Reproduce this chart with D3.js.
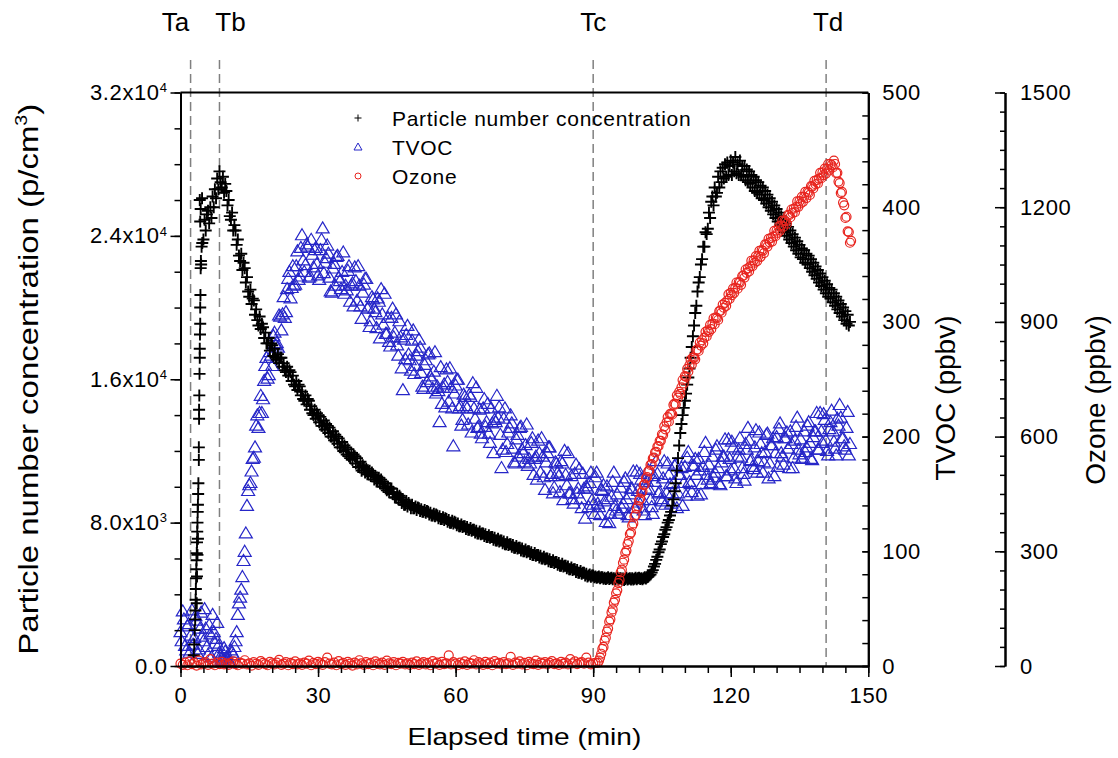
<!DOCTYPE html>
<html>
<head>
<meta charset="utf-8">
<script src="https://cdn.jsdelivr.net/npm/d3@7"></script>
<style>
  body { margin: 0; background: #fff; }
  svg { display: block; font-family: Arial, "Liberation Sans", sans-serif; }
</style>
</head>
<body>
<svg id="chart" width="1118" height="758"></svg>
<script>
// ---- data ----
// x axis: elapsed time (min)
const xTicks = [0, 30, 60, 90, 120, 150];
// left axis: particle number concentration, in 10^3 p/cm3
const particleTicks = [0, 8, 16, 24, 32];
const tvocTicks = [0, 100, 200, 300, 400, 500];
const ozoneTicks = [0, 300, 600, 900, 1200, 1500];

// event markers
const eventNames = ['Ta', 'Tb', 'Tc', 'Td'];
const eventTimes = [2.2, 8.5, 90, 140.8];

const seriesNames = ['Particle number concentration', 'TVOC', 'Ozone'];

// particle counter, initial rise (time min, 10^3 p/cm3)
const particleEarly = [
  [2.9,0.6],[3.0,1.2],[3.1,2.0],[3.2,2.6],[3.25,3.1],[3.3,3.7],[3.35,4.3],[3.4,4.9],[3.45,5.4],[3.5,5.9],
  [3.55,6.3],[3.6,6.9],[3.65,7.5],[3.7,8.0],[3.75,8.6],[3.8,9.0],[3.85,9.6],[3.55,3.5],[3.6,5.0],[3.7,6.2],
  [3.8,7.1],[3.9,10.2],[4.0,11.5],[4.0,12.2],[4.05,13.8],[4.05,14.3],[4.1,15.1],[4.15,16.3],[4.2,17.2],[4.2,17.7],
  [4.25,18.5],[4.3,19.1],[4.3,20.0],[4.35,20.7],[4.4,22.2],[4.45,22.6],[4.2,26.0],[4.3,24.8],[4.4,25.5],[4.6,23.4],[4.7,26.1]
];
// particle counter, every 0.25 min from 4.5 min (10^3 p/cm3)
const particleStart = 4.5, particleStep = 0.25;
const particle = [
  22.4,23.6,
  23.8,24.9,24.3,25.2, 25.4,24.7,25.6,25.0, 26.2,25.6,26.6,26.1, 27.2,26.6,27.6,27.0,
  26.7,27.3,26.4,26.9, 26.5,25.7,26.0,25.1, 24.9,25.3,24.3,24.6, 24.3,23.5,23.8,22.9,
  22.6,23.0,22.1,22.5, 22.2,21.4,21.7,20.9, 20.6,21.0,20.2,20.5, 20.4,19.6,19.9,19.3,
  19.0,19.5,18.8,19.1, 18.9,18.3,18.6,18.0, 18.0,18.3,17.6,18.0, 17.9,17.3,17.7,17.2,
  17.1,17.4,16.9,17.2, 17.2,16.7,16.9,16.5, 16.4,16.7,16.2,16.5, 16.4,15.9,16.2,15.7,
  15.6,15.9,15.4,15.7, 15.6,15.1,15.3,14.9, 14.8,15.1,14.6,14.9, 14.8,14.3,14.5,14.1,
  14.0,14.3,13.8,14.1, 14.0,13.6,13.9,13.4, 13.4,13.7,13.2,13.5, 13.4,13.0,13.3,12.8,
  12.8,13.1,12.6,12.9, 12.8,12.4,12.7,12.2, 12.2,12.5,12.0,12.3, 12.2,11.8,12.1,11.7,
  11.6,11.9,11.5,11.8, 11.7,11.3,11.6,11.1, 11.1,11.4,10.9,11.2, 11.1,10.8,11.0,10.7,
  10.7,10.9,10.6,10.8, 10.7,10.4,10.6,10.3, 10.3,10.5,10.2,10.4, 10.3,10.0,10.2,9.9,
  9.8,10.0,9.7,9.9, 9.9,9.6,9.7,9.4, 9.4,9.6,9.3,9.5, 9.4,9.1,9.3,9.0,
  9.0,9.2,8.9,9.1, 9.0,8.8,9.0,8.8, 8.8,8.9,8.7,8.85, 8.8,8.65,8.75,8.6,
  8.6,8.7,8.55,8.65, 8.6,8.45,8.55,8.4, 8.4,8.5,8.35,8.45, 8.4,8.25,8.35,8.2,
  8.2,8.3,8.15,8.25, 8.2,8.05,8.15,8.0, 8.0,8.1,7.95,8.05, 8.0,7.85,7.95,7.8,
  7.8,7.9,7.75,7.8, 7.8,7.65,7.75,7.6, 7.6,7.7,7.55,7.6, 7.6,7.45,7.55,7.4,
  7.4,7.5,7.35,7.4, 7.4,7.25,7.35,7.2, 7.2,7.3,7.15,7.2, 7.2,7.05,7.15,7.0,
  7.0,7.1,6.95,7.0, 7.0,6.85,6.95,6.8, 6.8,6.9,6.75,6.8, 6.8,6.65,6.75,6.6,
  6.6,6.7,6.55,6.6, 6.6,6.45,6.55,6.4, 6.4,6.5,6.35,6.4, 6.4,6.25,6.35,6.2,
  6.2,6.3,6.15,6.2, 6.2,6.05,6.15,6.0, 6.0,6.1,5.95,6.0, 6.0,5.85,5.95,5.8,
  5.8,5.9,5.75,5.8, 5.8,5.65,5.75,5.6, 5.6,5.7,5.55,5.6, 5.6,5.45,5.55,5.4,
  5.4,5.5,5.35,5.4, 5.4,5.25,5.35,5.2, 5.2,5.3,5.15,5.2, 5.2,5.05,5.15,5.0,
  5.05,5.1,4.98,5.05, 5.05,4.95,5.0,4.92, 4.95,5.0,4.9,4.95, 4.95,4.87,4.93,4.85,
  4.9,4.95,4.85,4.9, 4.93,4.84,4.9,4.82, 4.88,4.93,4.83,4.88, 4.9,4.82,4.88,4.8,
  4.86,4.92,4.82,4.87, 4.9,4.83,4.89,4.82, 4.87,4.93,4.84,4.9, 4.92,4.85,4.9,4.84,
  4.9,4.95,4.88,4.95, 4.98,5.05,5.1,5.22, 5.35,5.55,5.7,5.92, 6.1,6.35,6.5,6.8,
  6.95,7.2,7.35,7.6, 7.75,8.0,8.15,8.4, 8.6,8.95,9.3,9.75, 10.2,10.9,11.6,12.3,
  13.0,13.5,14.0,14.4, 14.8,15.2,15.7,16.1, 16.6,17.2,17.8,18.4, 19.0,19.7,20.1,20.9,
  21.4,21.7,22.4,22.7, 23.4,23.4,24.2,24.1, 24.4,25.3,25.0,25.9, 26.2,25.7,26.7,26.2,
  26.4,27.3,26.7,27.6, 27.0,27.8,27.2,28.0, 27.3,28.1,27.4,27.9, 28.2,27.4,28.1,27.6,
  28.4,27.5,28.0,27.4, 28.2,27.4,27.9,27.3, 27.9,27.1,27.7,27.0, 27.6,26.9,27.4,26.7,
  27.3,26.5,27.1,26.4, 27.0,26.3,26.8,26.1, 26.7,26.0,26.5,25.8, 26.3,25.6,26.1,25.4,
  25.9,25.2,25.7,25.0, 25.5,24.8,25.3,24.6, 25.1,24.4,24.9,24.2, 24.7,24.0,24.5,23.8,
  24.3,23.6,24.1,23.4, 23.9,23.2,23.7,23.0, 23.5,22.8,23.3,22.7, 23.2,22.5,23.0,22.4,
  22.9,22.2,22.7,22.0, 22.5,21.8,22.3,21.6, 22.1,21.4,21.9,21.2, 21.7,21.0,21.5,20.8,
  21.3,20.6,21.1,20.5, 21.0,20.3,20.8,20.1, 20.6,19.9,20.4,19.7, 20.2,19.5,20.0,19.3,
  19.8,19.1,19.6,19.0,
  19.2
];

// TVOC (ppbv), every 0.5 min from 0 min
const tvocStart = 0, tvocStep = 0.5;
const tvoc = [
  30,48,18,35,12,49,25,40,15,47,22,33,10,28,45,20,38,
  12,6,16,8,4,14,
  10,22,45,60,78,100,140,158,170,
  182,210,208,236,233,262,251,274,262,291,282,306,293,322,309,338,321,349,333,362,340,376,344,368,339,372,348,365,341,
  363,382,352,367,339,326,351,357,339,329, 361,332,345,318,334,348,319,332,303,333,
  338,313,301,320,309,321,286,307,325,290, 283,304,287,307,271,287,241,268,297,267,
  284,255,271,285,256,242,267,272,253,242, 274,244,213,229,246,259,231,243,192,245,
  250,227,215,235,225,237,204,225,243,209, 203,225,209,229,195,212,215,236,226,173,
  216,187,204,219,190,177,202,208,189,178, 211,181,195,167,183,197,169,183,154,186,
  191,168,156,177,166,179,145,167,186,151, 146,168,151,172,138,155,157,139,169,141,
  165,142,132,153,144,157,125,148,169,136, 133,156,142,164,132,150,155,138,170,143,
  163,136,155,171,145,133,161,168,152,144, 179,151,167,142,160,176,151,167,140,174,
  182,161,152,175,167,181,150,174,195,163, 159,183,169,192,159,178,183,166,198,171,
  191,164,183,199,173,162,189,197,180,172, 206,179,194,169,187,203,177,193,166,200,
  207,186,176,199,190,205,173,197,217,185, 181,205,191,213,181,200,205,189,221,195,
  215,188,207,223,196,184,210,217,199,189, 222,194
];
// TVOC (ppbv), readings in between, every 0.5 min from 0.25 min
const tvocMidStart = 0.25, tvocMidStep = 0.5;
const tvocMid = [
  22,41,14,37,27,19,44,11,33,26,50,17,36,8,30,24,
  18,9,5,13,7,3,
  12,17,30,55,67,92,116,153,160,181,
  191,219,221,221,249,269,254,271,288,280,278,305,307,304,329,344,330,332,349,337,365,354,350,366,340,359,363,351,
  337,372,343,356,360,327,347,332,358,336, 344,325,328,349,332,314,336,349,314,326,
  338,312,296,322,312,295,318,329,298,290, 304,279,312,291,280,301,260,285,289,272,
  258,293,262,275,278,244,263,248,273,250, 257,238,240,261,243,226,248,260,225,238,
  250,225,210,237,227,211,235,247,216,208, 224,199,233,213,203,225,186,213,217,202,
  189,225,194,208,212,178,198,183,209,186, 193,175,177,199,181,163,186,199,165,178,
  191,166,151,178,169,152,177,188,158,151, 166,142,176,155,146,168,129,155,160,145,
  133,169,139,154,158,126,146,133,161,140, 150,133,138,161,146,130,155,170,138,153,
  168,145,132,161,154,139,166,179,151,146, 164,141,177,159,151,175,138,167,173,160,
  149,187,159,175,181,149,171,159,187,167, 176,160,165,189,173,158,183,198,166,181,
  196,173,160,189,182,168,194,208,179,174, 191,169,204,186,178,202,164,193,199,186,
  174,212,183,199,204,173,194,182,209,189, 198,182,187,210,195,180,205,221,189,205,
  220,197,184,213,205,190,216,228,199,192, 208,184
];

// ozone (ppbv), every 0.5 min from 0 min before ozonation
const ozoneBaseStart = 0, ozoneBaseStep = 0.5;
const ozoneBase = [
  6,3,9,2,12,5,8,1,14,4,7,10,3,18,6,2,9,5,11,4,7,
  3,8,12,5,2,9,6,15,4,7,1,10,6,3,13,8,5,2,11,7,4,9,16,3,6,10,2,8,5,12,4,7,3,9,6,14,2,8,5,11,
  7,3,10,22,6,4,9,2,13,5,8,3,11,6,1,9,4,15,7,3,10,5,8,2,12,6,4,9,3,14,7,5,10,2,8,6,11,4,7,3,
  9,5,12,3,7,10,4,8,2,13,6,9,3,11,5,7,28,4,10,6,2,9,5,12,3,8,6,15,4,10,7,3,11,5,9,2,13,6,8,4,
  10,5,7,24,3,9,6,12,4,8,2,11,7,5,14,3,9,6,10,4,8,13,5,7,3,11,6,9,4,18,7,12,5,8,10,6,22,9,4,7,8
];
// ozone (ppbv), every 0.25 min from 91 min
const ozoneRiseStart = 91, ozoneRiseStep = 0.25;
const ozoneRise = [
  8,14,22,32, 45,50,66,74, 90,98,116,122, 140,148,166,173, 190,198,217,225,
  245,252,270,278, 296,302,319,327, 345,349,367,373, 391,395,412,418, 433,438,453,457,
  473,475,491,494, 509,511,526,528, 543,545,559,560, 574,575,589,589, 606,604,627,619,
  637,651,639,659, 660,658,683,686, 684,708,702,717, 712,729,748,739, 758,756,777,770,
  787,801,788,807, 806,802,826,828, 824,846,838,852, 844,859,874,862, 878,874,892,881,
  895,909,894,912, 910,905,928,929, 924,945,937,950, 942,956,972,960, 976,970,987,976,
  989,1003,987,1004, 1003,997,1020,1021, 1016,1037,1028,1040, 1032,1045,1060,1046, 1061,1055,1072,1059,
  1072,1086,1070,1088, 1086,1080,1103,1102, 1097,1117,1108,1119, 1110,1123,1138,1124, 1139,1133,1150,1139,
  1152,1165,1149,1165, 1163,1157,1180,1179, 1174,1194,1185,1196, 1187,1200,1215,1201, 1216,1210,1227,1214,
  1227,1240,1224,1240, 1238,1232,1255,1254, 1249,1269,1260,1271, 1262,1275,1290,1276, 1291,1284,1301,1288,
  1300,1313,1296,1313, 1310,1304,1322,1313, 1289,1290,1267,1263, 1237,1240,1212,1205, 1172,1175,1137,1135,
  1107,1112
];

// ---- layout ----
const margin = { left: 180.5, right: 868.3, top: 92.5, bottom: 666 };
const ozoneAxisX = 1005;
const tvocColor = '#2626c8';
const ozoneColor = '#e8251f';

const svg = d3.select('#chart');

const x = d3.scaleLinear().domain([0, 150]).range([margin.left, margin.right]);
const yP = d3.scaleLinear().domain([0, 32]).range([margin.bottom, margin.top]);
const yT = d3.scaleLinear().domain([0, 500]).range([margin.bottom, margin.top]);
const yO = d3.scaleLinear().domain([0, 1500]).range([margin.bottom, margin.top]);

// build point lists
const particlePts = particleEarly.concat(particle.map((v, i) => [particleStart + i * particleStep, v]));
const tvocPts = tvoc.map((v, i) => [tvocStart + i * tvocStep, v])
  .concat(tvocMid.map((v, i) => [tvocMidStart + i * tvocMidStep, v]));
const ozonePts = ozoneBase.map((v, i) => [ozoneBaseStart + i * ozoneBaseStep, v])
  .concat(ozoneRise.map((v, i) => [ozoneRiseStart + i * ozoneRiseStep, v]));

const plusPath = 'M-6,0H6M0,-6V6';
const triPath = 'M0,-6L6.5,5L-6.5,5Z';

// event lines
eventTimes.forEach(t => {
  svg.append('line')
    .attr('x1', x(t)).attr('x2', x(t))
    .attr('y1', 60).attr('y2', margin.bottom)
    .attr('stroke', '#808080')
    .attr('stroke-width', 1.5)
    .attr('stroke-dasharray', '9,5');
});
const eventLabelShift = [-15, 11, 0, 2];
svg.append('g').selectAll('text')
  .data(eventNames)
  .join('text')
  .attr('x', (d, i) => x(eventTimes[i]) + eventLabelShift[i])
  .attr('y', 31)
  .attr('text-anchor', 'middle')
  .attr('font-size', 26)
  .text(d => d);

// TVOC triangles
svg.append('g')
  .attr('fill', 'none').attr('stroke', tvocColor).attr('stroke-width', 1.2)
  .selectAll('path').data(tvocPts).join('path')
  .attr('transform', d => `translate(${x(d[0])},${yT(d[1])})`)
  .attr('d', triPath);

// particle crosses
svg.append('g')
  .attr('fill', 'none').attr('stroke', '#000').attr('stroke-width', 1.9)
  .selectAll('path').data(particlePts).join('path')
  .attr('transform', d => `translate(${x(d[0])},${yP(d[1])})`)
  .attr('d', plusPath);

// ozone circles
svg.append('g')
  .attr('fill', 'none').attr('stroke', ozoneColor).attr('stroke-width', 1.2)
  .selectAll('circle').data(ozonePts).join('circle')
  .attr('cx', d => x(d[0]))
  .attr('cy', d => yO(d[1]))
  .attr('r', 4.5);

// ---- axes ----
function styleAxis(g) {
  g.select('.domain').attr('stroke', '#000').attr('stroke-width', 2);
  g.selectAll('.tick line').attr('stroke', '#000').attr('stroke-width', 1.5);
  g.selectAll('.tick text').attr('fill', '#000').attr('font-size', 22).attr('letter-spacing', '0.6px');
  g.attr('font-family', null);
}

// bottom
svg.append('g')
  .attr('transform', `translate(0,${margin.bottom})`)
  .call(d3.axisBottom(x).tickValues(d3.range(0, 151, 5)).tickSize(7).tickSizeOuter(0).tickFormat(''))
  .call(styleAxis);
svg.append('g')
  .attr('transform', `translate(0,${margin.bottom})`)
  .call(d3.axisBottom(x).tickValues(xTicks).tickSize(11).tickPadding(10).tickSizeOuter(0))
  .call(styleAxis);

// top frame line
svg.append('line')
  .attr('x1', margin.left).attr('x2', margin.right)
  .attr('y1', margin.top).attr('y2', margin.top)
  .attr('stroke', '#000').attr('stroke-width', 2);

// left
svg.append('g')
  .attr('transform', `translate(${margin.left},0)`)
  .call(d3.axisLeft(yP).tickValues(d3.range(0, 33, 2)).tickSize(6).tickSizeOuter(0).tickFormat(''))
  .call(styleAxis);
const leftAxis = svg.append('g')
  .attr('transform', `translate(${margin.left},0)`)
  .call(d3.axisLeft(yP).tickValues(particleTicks).tickSize(10).tickPadding(3).tickSizeOuter(0))
  .call(styleAxis);
leftAxis.selectAll('.tick text').each(function(d) {
  const t = d3.select(this).text(null);
  if (d === 0) { t.text('0.0'); return; }
  const v = d * 1000;
  const e = Math.floor(Math.log10(v));
  t.append('tspan').text((v / Math.pow(10, e)).toFixed(1) + 'x10');
  t.append('tspan').attr('dy', '-0.6em').attr('font-size', 13).text(e);
});

// right TVOC
svg.append('g')
  .attr('transform', `translate(${margin.right},0)`)
  .call(d3.axisRight(yT).tickValues(d3.range(0, 501, 20)).tickSize(-6).tickSizeOuter(0).tickFormat(''))
  .call(styleAxis);
svg.append('g')
  .attr('transform', `translate(${margin.right},0)`)
  .call(d3.axisRight(yT).tickValues(tvocTicks).tickSize(-6).tickPadding(14).tickSizeOuter(0))
  .call(styleAxis);

// ozone
svg.append('g')
  .attr('transform', `translate(${ozoneAxisX},0)`)
  .call(d3.axisRight(yO).tickValues(d3.range(0, 1501, 50)).tickSize(-5).tickSizeOuter(0).tickFormat(''))
  .call(styleAxis);
svg.append('g')
  .attr('transform', `translate(${ozoneAxisX},0)`)
  .call(d3.axisRight(yO).tickValues(ozoneTicks).tickSize(-10).tickPadding(15).tickSizeOuter(0).tickFormat(d3.format('d')))
  .call(styleAxis);

// ---- axis titles ----
svg.append('text')
  .attr('transform', `translate(${(margin.left + margin.right) / 2},745) scale(1.22,1)`)
  .attr('text-anchor', 'middle')
  .attr('font-size', 23)
  .text('Elapsed time (min)');

const yTitle = svg.append('text')
  .attr('transform', `translate(38,${(margin.top + margin.bottom) / 2}) rotate(-90) scale(1.22,1)`)
  .attr('text-anchor', 'middle')
  .attr('font-size', 27);
yTitle.append('tspan').text('Particle number concentration (p/cm');
yTitle.append('tspan').attr('dy', -11).attr('font-size', 16).text('3');
yTitle.append('tspan').attr('dy', 11).text(')');

svg.append('text')
  .attr('transform', 'translate(955,398) rotate(-90)')
  .attr('text-anchor', 'middle')
  .attr('font-size', 28)
  .text('TVOC (ppbv)');

svg.append('text')
  .attr('transform', 'translate(1105,400) rotate(-90)')
  .attr('text-anchor', 'middle')
  .attr('font-size', 28)
  .text('Ozone (ppbv)');

// ---- legend ----
const legend = svg.append('g').attr('transform', 'translate(358,118)');
const rows = legend.selectAll('g').data(seriesNames).join('g')
  .attr('transform', (d, i) => `translate(0,${i * 29})`);
rows.filter((d, i) => i === 0).append('path')
  .attr('d', 'M-3.5,0H3.5M0,-3.5V3.5').attr('stroke', '#000').attr('stroke-width', 1);
rows.filter((d, i) => i === 1).append('path')
  .attr('d', 'M0,-4L4,3L-4,3Z').attr('fill', 'none').attr('stroke', tvocColor).attr('stroke-width', 1);
rows.filter((d, i) => i === 2).append('circle')
  .attr('r', 3).attr('fill', 'none').attr('stroke', ozoneColor).attr('stroke-width', 1);
rows.append('text')
  .attr('x', 34)
  .attr('dy', '0.36em')
  .attr('font-size', 21)
  .attr('letter-spacing', '0.7px')
  .text(d => d);
</script>
</body>
</html>
